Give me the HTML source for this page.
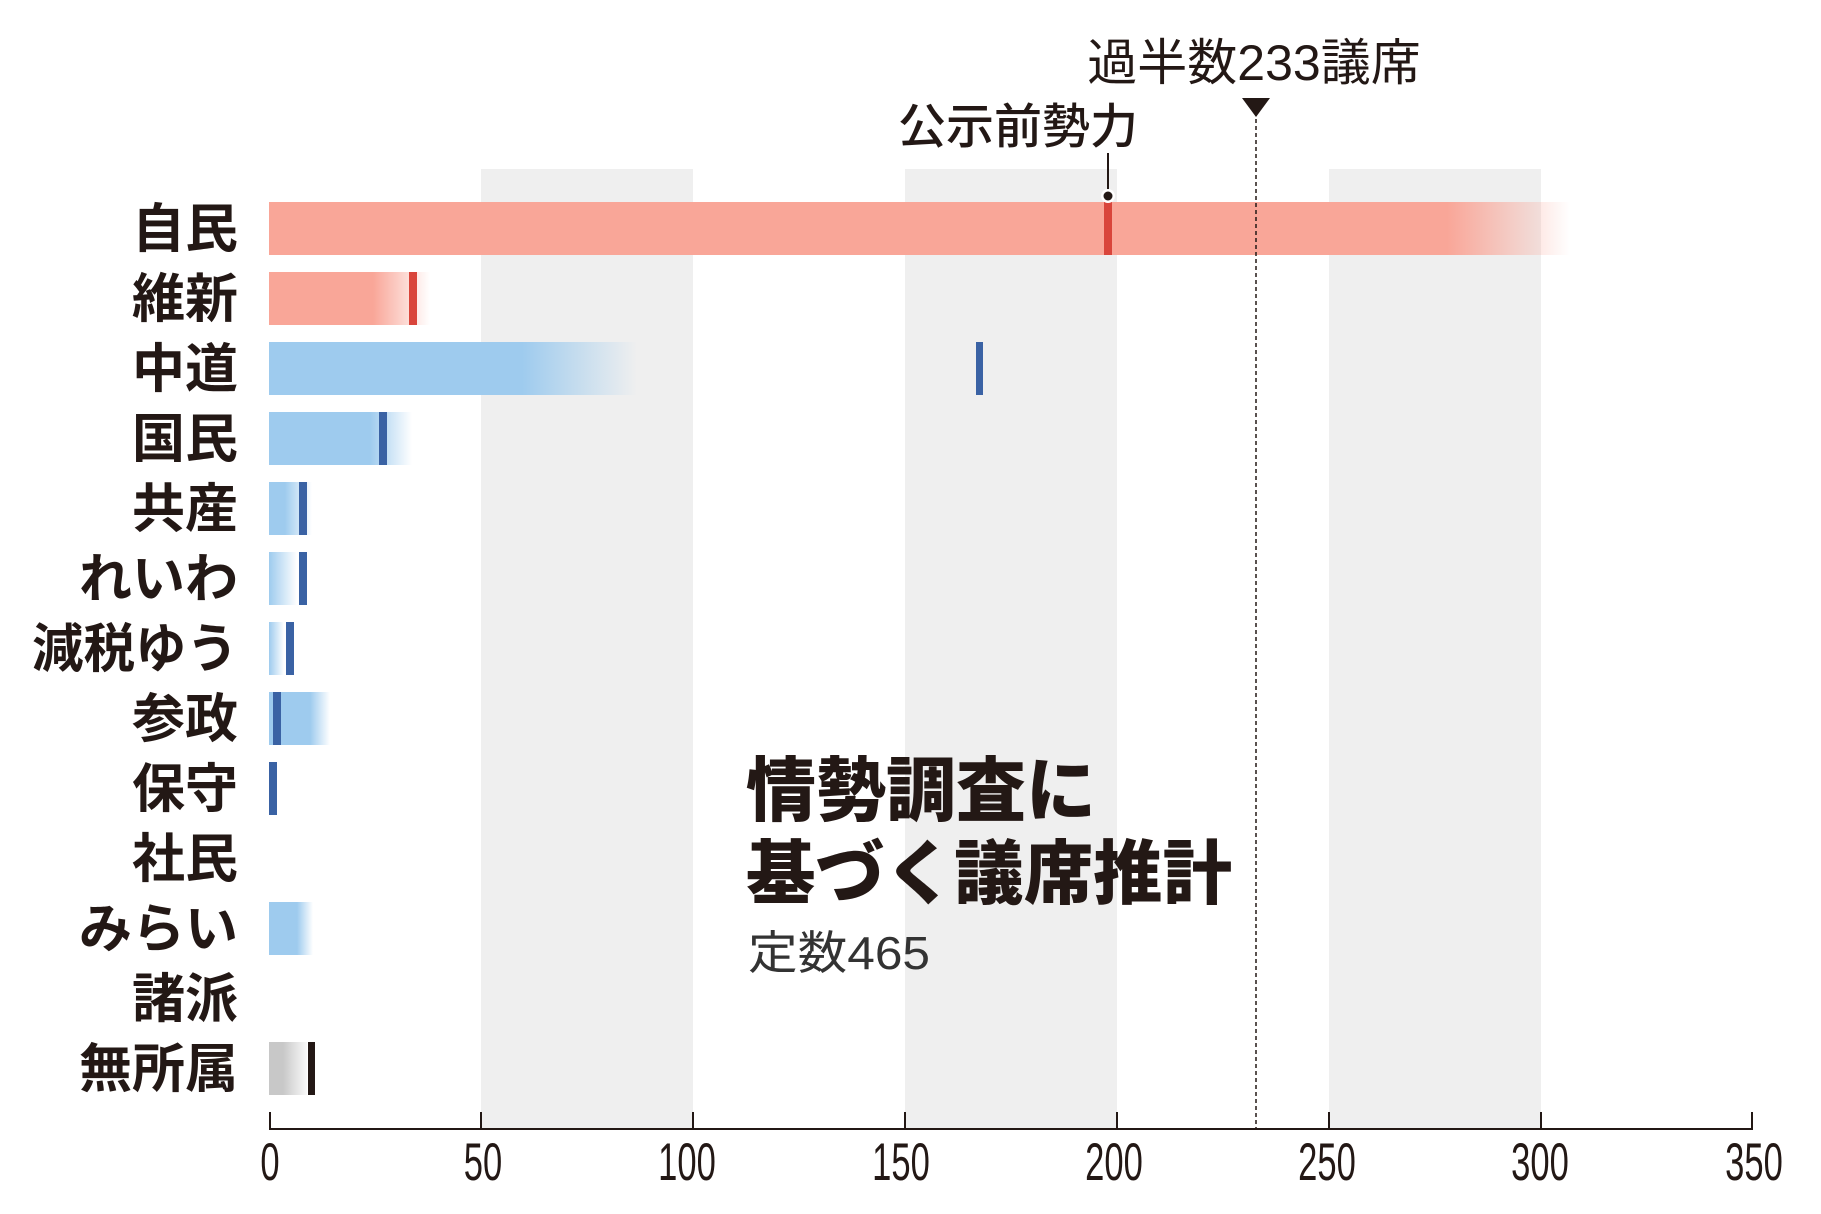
<!DOCTYPE html>
<html><head><meta charset="utf-8"><style>
html,body{margin:0;padding:0;background:#fff;}
svg{display:block;}
text{font-family:"Liberation Sans","Noto Sans CJK JP",sans-serif;fill:#231815;}
.lab{font-family:"Noto Sans CJK JP",sans-serif;font-size:53px;font-weight:700;}
.tick{font-family:"Liberation Sans",sans-serif;font-size:48px;}
</style></head><body>
<svg width="1821" height="1214" viewBox="0 0 1821 1214" xmlns="http://www.w3.org/2000/svg">
<defs>
<linearGradient id="gr" x1="0" x2="1" y1="0" y2="0"><stop offset="0" stop-color="#f9a698"/><stop offset="1" stop-color="#f9a698" stop-opacity="0"/></linearGradient>
<linearGradient id="gb" x1="0" x2="1" y1="0" y2="0"><stop offset="0" stop-color="#9ecbee"/><stop offset="1" stop-color="#9ecbee" stop-opacity="0"/></linearGradient>
<linearGradient id="gg" x1="0" x2="1" y1="0" y2="0"><stop offset="0" stop-color="#c8c8c8"/><stop offset="1" stop-color="#c8c8c8" stop-opacity="0.1"/></linearGradient>
</defs>
<rect x="481" y="169" width="212" height="960" fill="#efefef"/>
<rect x="905" y="169" width="212" height="960" fill="#efefef"/>
<rect x="1329" y="169" width="212" height="960" fill="#efefef"/>

<rect x="269" y="202" width="1178" height="53" fill="#f9a698"/>
<rect x="1447" y="202" width="123" height="53" fill="url(#gr)"/>
<rect x="1104" y="202" width="8" height="53" fill="#d9453b"/>
<rect x="269" y="272" width="104" height="53" fill="#f9a698"/>
<rect x="373" y="272" width="57" height="53" fill="url(#gr)"/>
<rect x="409" y="272" width="8" height="53" fill="#d9453b"/>
<rect x="269" y="342" width="253" height="53" fill="#9ecbee"/>
<rect x="522" y="342" width="115" height="53" fill="url(#gb)"/>
<rect x="976" y="342" width="7" height="53" fill="#3a62a4"/>
<rect x="269" y="412" width="101" height="53" fill="#9ecbee"/>
<rect x="370" y="412" width="42" height="53" fill="url(#gb)"/>
<rect x="379" y="412" width="8" height="53" fill="#3a62a4"/>
<rect x="269" y="482" width="16" height="53" fill="#9ecbee"/>
<rect x="285" y="482" width="27" height="53" fill="url(#gb)"/>
<rect x="299" y="482" width="8" height="53" fill="#3a62a4"/>
<rect x="269" y="552" width="28" height="53" fill="url(#gb)"/>
<rect x="299" y="552" width="8" height="53" fill="#3a62a4"/>
<rect x="269" y="622" width="15" height="53" fill="url(#gb)"/>
<rect x="286" y="622" width="8" height="53" fill="#3a62a4"/>
<rect x="269" y="692" width="41" height="53" fill="#9ecbee"/>
<rect x="310" y="692" width="20" height="53" fill="url(#gb)"/>
<rect x="273" y="692" width="8" height="53" fill="#3a62a4"/>
<rect x="269" y="762" width="8" height="53" fill="#3a62a4"/>
<rect x="269" y="902" width="28" height="53" fill="#9ecbee"/>
<rect x="297" y="902" width="16" height="53" fill="url(#gb)"/>
<rect x="269" y="1042" width="14" height="53" fill="#c8c8c8"/>
<rect x="283" y="1042" width="24" height="53" fill="url(#gg)"/>
<rect x="308" y="1042" width="7" height="53" fill="#231815"/>

<line x1="1256" y1="112" x2="1256" y2="1129" stroke="#231815" stroke-width="1.5" stroke-dasharray="4,3"/>
<polygon points="1242,98 1270,98 1256,117" fill="#231815"/>
<text x="1254" y="80" font-size="50" text-anchor="middle">過半数233議席</text>
<text x="1018" y="143" font-size="48" text-anchor="middle" style="font-family:'Noto Sans CJK JP',sans-serif;font-weight:500">公示前勢力</text>
<line x1="1108" y1="153" x2="1108" y2="196" stroke="#231815" stroke-width="2"/>
<circle cx="1108" cy="196" r="7" fill="#fff"/>
<circle cx="1108" cy="196" r="4.5" fill="#231815"/>

<g text-anchor="end">
<text class="lab" x="238" y="247">自民</text>
<text class="lab" x="238" y="317">維新</text>
<text class="lab" x="238" y="387">中道</text>
<text class="lab" x="238" y="457">国民</text>
<text class="lab" x="238" y="527">共産</text>
<text class="lab" x="238" y="597">れいわ</text>
<text class="lab" x="238" y="667" textLength="206" lengthAdjust="spacingAndGlyphs">減税ゆう</text>
<text class="lab" x="238" y="737">参政</text>
<text class="lab" x="238" y="807">保守</text>
<text class="lab" x="238" y="877">社民</text>
<text class="lab" x="238" y="947">みらい</text>
<text class="lab" x="238" y="1017">諸派</text>
<text class="lab" x="238" y="1087">無所属</text>
</g>

<text x="746" y="815" font-size="70" style="font-family:'Noto Sans CJK JP',sans-serif;font-weight:900">情勢調査に</text>
<text x="746" y="898" font-size="70" textLength="486" lengthAdjust="spacingAndGlyphs" style="font-family:'Noto Sans CJK JP',sans-serif;font-weight:900">基づく議席推計</text>
<text x="748" y="969" font-size="46" textLength="182" lengthAdjust="spacingAndGlyphs" style="font-family:'Liberation Sans','Noto Sans CJK JP',sans-serif;fill:#333">定数465</text>

<line x1="269" y1="1129" x2="1753" y2="1129" stroke="#231815" stroke-width="2"/>
<g stroke="#231815" stroke-width="2">
<line x1="270" y1="1112" x2="270" y2="1129"/><line x1="481" y1="1112" x2="481" y2="1129"/>
<line x1="693" y1="1112" x2="693" y2="1129"/><line x1="905" y1="1112" x2="905" y2="1129"/>
<line x1="1117" y1="1112" x2="1117" y2="1129"/><line x1="1329" y1="1112" x2="1329" y2="1129"/>
<line x1="1541" y1="1112" x2="1541" y2="1129"/><line x1="1752" y1="1112" x2="1752" y2="1129"/>
</g>
<g text-anchor="middle">
<text class="tick" transform="translate(270 1180) scale(0.72 1.1)">0</text>
<text class="tick" transform="translate(483 1180) scale(0.72 1.1)">50</text>
<text class="tick" transform="translate(687 1180) scale(0.72 1.1)">100</text>
<text class="tick" transform="translate(901 1180) scale(0.72 1.1)">150</text>
<text class="tick" transform="translate(1114 1180) scale(0.72 1.1)">200</text>
<text class="tick" transform="translate(1327 1180) scale(0.72 1.1)">250</text>
<text class="tick" transform="translate(1540 1180) scale(0.72 1.1)">300</text>
<text class="tick" transform="translate(1754 1180) scale(0.72 1.1)">350</text>
</g>
</svg>
</body></html>
